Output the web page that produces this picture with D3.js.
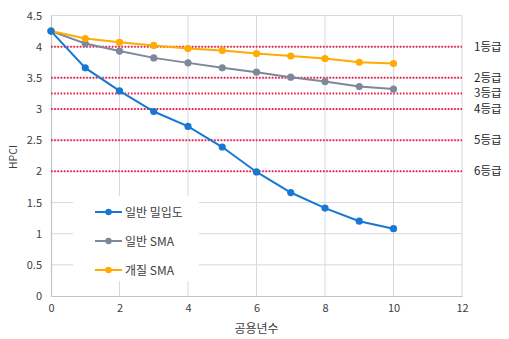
<!DOCTYPE html>
<html>
<head>
<meta charset="utf-8">
<script src="https://cdn.jsdelivr.net/npm/d3@7"></script>
<style>
  html, body { margin: 0; padding: 0; background: #fff; }
  svg text { font-family: "Noto Sans CJK KR", "Noto Sans", sans-serif; }
</style>
</head>
<body>
<svg id="chart" width="509" height="339"></svg>
<script>
// 공용년수 (years in service)
const years = [0, 1, 2, 3, 4, 5, 6, 7, 8, 9, 10];
// HPCI by pavement type
const generalDense = [4.25, 3.66, 3.29, 2.96, 2.72, 2.39, 1.99, 1.66, 1.41, 1.20, 1.08];
const generalSMA   = [4.25, 4.05, 3.93, 3.82, 3.74, 3.66, 3.59, 3.51, 3.44, 3.36, 3.32];
const modifiedSMA  = [4.25, 4.13, 4.07, 4.02, 3.97, 3.94, 3.89, 3.85, 3.81, 3.75, 3.73];
const seriesNames  = ["일반 밀입도", "일반 SMA", "개질 SMA"];
const seriesColors = ["#1877d2", "#7d889b", "#ffab00"];
// grade thresholds
const gradeValues = [4, 3.5, 3.25, 3, 2.5, 2];
const gradeLabels = ["1등급", "2등급", "3등급", "4등급", "5등급", "6등급"];
const xTicks = [0, 2, 4, 6, 8, 10, 12];
const yTicks = [0, 0.5, 1, 1.5, 2, 2.5, 3, 3.5, 4, 4.5];

(function draw() {
  const svg = d3.select("#chart");
  const plotLeft = 51, plotRight = 462, plotTop = 15.5, plotBottom = 296;

  const x = d3.scaleLinear().domain([0, 12]).range([plotLeft, plotRight]);
  const y = d3.scaleLinear().domain([0, 4.5]).range([plotBottom, plotTop]);

  // gridlines
  const grid = svg.append("g");
  grid.selectAll(".hg").data(yTicks.filter(d => d > 0)).join("line")
    .attr("x1", plotLeft).attr("x2", plotRight)
    .attr("y1", d => y(d)).attr("y2", d => y(d))
    .attr("stroke", "#d6d9e0").attr("stroke-width", 1);
  grid.selectAll(".vg").data(xTicks.filter(d => d > 0)).join("line")
    .attr("x1", d => x(d)).attr("x2", d => x(d))
    .attr("y1", plotTop).attr("y2", plotBottom)
    .attr("stroke", "#d6d9e0").attr("stroke-width", 1);

  // axes
  const xAxis = svg.append("g").attr("transform", `translate(0,${plotBottom})`)
    .call(d3.axisBottom(x).tickValues(xTicks).tickSize(0).tickPadding(8).tickFormat(d3.format("d")));
  const yAxis = svg.append("g").attr("transform", `translate(${plotLeft},0)`)
    .call(d3.axisLeft(y).tickValues(yTicks).tickSize(0).tickPadding(9).tickFormat(d => String(d)));
  [xAxis, yAxis].forEach(a => {
    a.select(".domain").attr("stroke", "#bfc3cc").attr("stroke-width", 1.2);
    a.selectAll("text").attr("fill", "#404040").style("font-size", "11px");
  });

  // grade threshold lines
  svg.append("g").selectAll("line").data(gradeValues).join("line")
    .attr("x1", plotLeft).attr("x2", plotRight)
    .attr("y1", d => y(d)).attr("y2", d => y(d))
    .attr("stroke", "#ef1f4a").attr("stroke-width", 2)
    .attr("stroke-dasharray", "1.6,1.6");
  svg.append("g").selectAll("text").data(gradeValues).join("text")
    .attr("x", 474).attr("y", d => y(d) + 4)
    .attr("fill", "#262626").style("font-size", "11.5px")
    .text((d, i) => gradeLabels[i]);

  // legend box (behind series lines)
  const legend = svg.append("g");
  legend.append("rect").attr("x", 73).attr("y", 196).attr("width", 126).attr("height", 85)
    .attr("fill", "#fff");

  // series
  const allSeries = [generalDense, generalSMA, modifiedSMA];
  const line = d3.line().x((d, i) => x(years[i])).y(d => y(d));
  [1, 2, 0].forEach(k => {
    const vals = allSeries[k];
    const g = svg.append("g");
    g.append("path").datum(vals).attr("d", line)
      .attr("fill", "none").attr("stroke", seriesColors[k]).attr("stroke-width", 2);
    g.selectAll("circle").data(vals).join("circle")
      .attr("cx", (d, i) => x(years[i])).attr("cy", d => y(d)).attr("r", 3.6)
      .attr("fill", seriesColors[k]);
  });

  // legend entries
  const legendY = [212, 241, 270];
  seriesNames.forEach((name, i) => {
    legend.append("line").attr("x1", 95).attr("x2", 122)
      .attr("y1", legendY[i]).attr("y2", legendY[i])
      .attr("stroke", seriesColors[i]).attr("stroke-width", 2);
    legend.append("circle").attr("cx", 108.5).attr("cy", legendY[i]).attr("r", 3.2)
      .attr("fill", seriesColors[i]);
    legend.append("text").attr("x", 125).attr("y", legendY[i] + 4.5)
      .attr("fill", "#404040").style("font-size", "12px").text(name);
  });

  // axis titles
  svg.append("text").attr("x", (plotLeft + plotRight) / 2).attr("y", 333)
    .attr("text-anchor", "middle").attr("fill", "#404040").style("font-size", "12px")
    .text("공용년수");
  svg.append("text").attr("transform", "translate(17,157) rotate(-90)")
    .attr("text-anchor", "middle").attr("fill", "#404040").style("font-size", "10.5px")
    .text("HPCI");
})();
</script>
</body>
</html>
